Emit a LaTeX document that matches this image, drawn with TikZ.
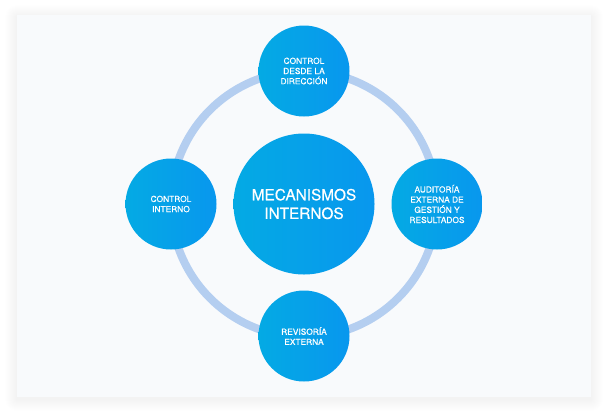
\documentclass[tikz,border=0pt]{standalone}
\usepackage{fontspec}
\setmainfont{TeX Gyre Heros}
\newfontfamily\bubfont[FakeBold=0.5]{TeX Gyre Heros}

\definecolor{cardbg}{HTML}{F8FAFC}
\definecolor{ringblue}{HTML}{B4CEF0}
\definecolor{bubleft}{HTML}{04AAE4}
\definecolor{bubright}{HTML}{0897EE}

\begin{document}
\begin{tikzpicture}[x=1bp,y=-1bp,
  bubble/.style={circle, inner sep=0pt, minimum size=91bp,
    left color=bubleft, right color=bubright, text=white, align=center,
    font=\bubfont\fontsize{8.4}{10.2}\selectfont},
  hub/.style={bubble, minimum size=141bp, font=\bubfont\fontsize{15.4}{18.7}\selectfont},
  ring/.style={ringblue, line width=8bp}]

\useasboundingbox (0,0) rectangle (608,416);
\fill[white] (0,0) rectangle (608,416);
% soft shadow round the card
\foreach \s in {1,...,12}
  \fill[black, opacity=0.005, rounded corners=\s bp] (17-\s,15-\s+2) rectangle (591+\s,397+\s+2);
\fill[cardbg] (17,15) rectangle (591,397);

\node[hub] (mec) at (304,204) {MECANISMOS\\INTERNOS};

\draw[ring] (mec.center) circle (133bp);

\node[bubble] (dir) at (304,71) {CONTROL\\DESDE LA\\DIRECCIÓN};
\node[bubble] (ci) at (171,204) {CONTROL\\INTERNO};
\node[bubble] (aud) at (437,204) {AUDITORÍA\\EXTERNA DE\\GESTIÓN Y\\RESULTADOS};
\node[bubble] (rev) at (304,336) {REVISORÍA\\EXTERNA};

\end{tikzpicture}
\end{document}
